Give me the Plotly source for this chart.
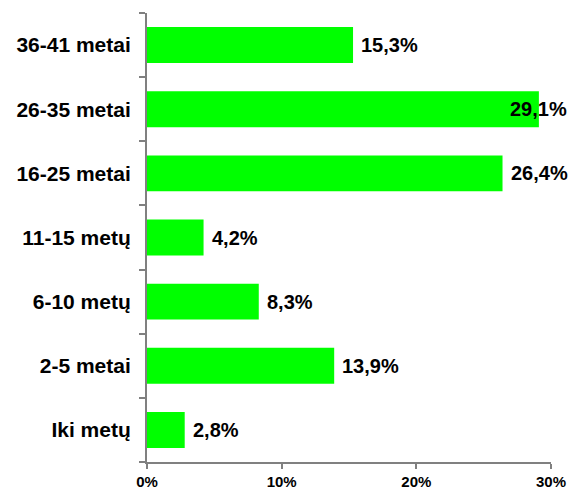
import plotly.graph_objects as go

# Age groups, listed bottom to top
categories = ["Iki metų", "2-5 metai", "6-10 metų", "11-15 metų",
              "16-25 metai", "26-35 metai", "36-41 metai"]
values = [2.8, 13.9, 8.3, 4.2, 26.4, 29.1, 15.3]
x_ticks = [0, 10, 20, 30]
x_tick_labels = ["0%", "10%", "20%", "30%"]

labels = [f"{v:.1f}%".replace(".", ",") for v in values]

FONT = "Liberation Sans, Arial, sans-serif"
AXIS_COLOR = "#808080"
X_MAX = 30

fig = go.Figure(
    go.Bar(
        x=values,
        y=categories,
        orientation="h",
        marker=dict(color="#00FF00", line=dict(width=0)),
        width=0.56,
        hoverinfo="skip",
    )
)

# Value labels just right of each bar; when there is no room they are
# pulled back over the bar end so they stay inside the figure
for cat, v, lab in zip(categories, values, labels):
    fits = v < X_MAX - 2
    fig.add_annotation(
        x=v, y=cat, xref="x", yref="y",
        text=f"<b>{lab}</b>",
        showarrow=False,
        xanchor="left" if fits else "right",
        xshift=6 if fits else 30,
        font=dict(family=FONT, size=20, color="black"),
    )

fig.update_layout(
    width=571, height=492,
    margin=dict(l=147, r=20, t=13, b=30, autoexpand=False),
    paper_bgcolor="white", plot_bgcolor="white",
    showlegend=False,
    bargap=0.44,
)

fig.update_xaxes(
    range=[0, X_MAX],
    tickvals=x_ticks, ticktext=[f"<b>{t}</b>" for t in x_tick_labels],
    showgrid=False, zeroline=False,
    showline=True, linecolor=AXIS_COLOR, linewidth=2,
    ticks="outside", ticklen=5, tickwidth=1.5, tickcolor=AXIS_COLOR,
    tickfont=dict(family=FONT, size=15, color="black"),
    automargin=False,
    fixedrange=True,
)

fig.update_yaxes(
    type="category",
    categoryorder="array", categoryarray=categories,
    ticktext=[f"<b>{c}</b>" for c in categories], tickvals=categories,
    tickson="boundaries",
    showgrid=False, zeroline=False,
    showline=True, linecolor=AXIS_COLOR, linewidth=2,
    ticks="outside", ticklen=6, tickwidth=1.5, tickcolor=AXIS_COLOR,
    tickfont=dict(family=FONT, size=21, color="black"),
    ticklabelstandoff=10,
    automargin=False,
    fixedrange=True,
)

fig.write_html("out.html")
